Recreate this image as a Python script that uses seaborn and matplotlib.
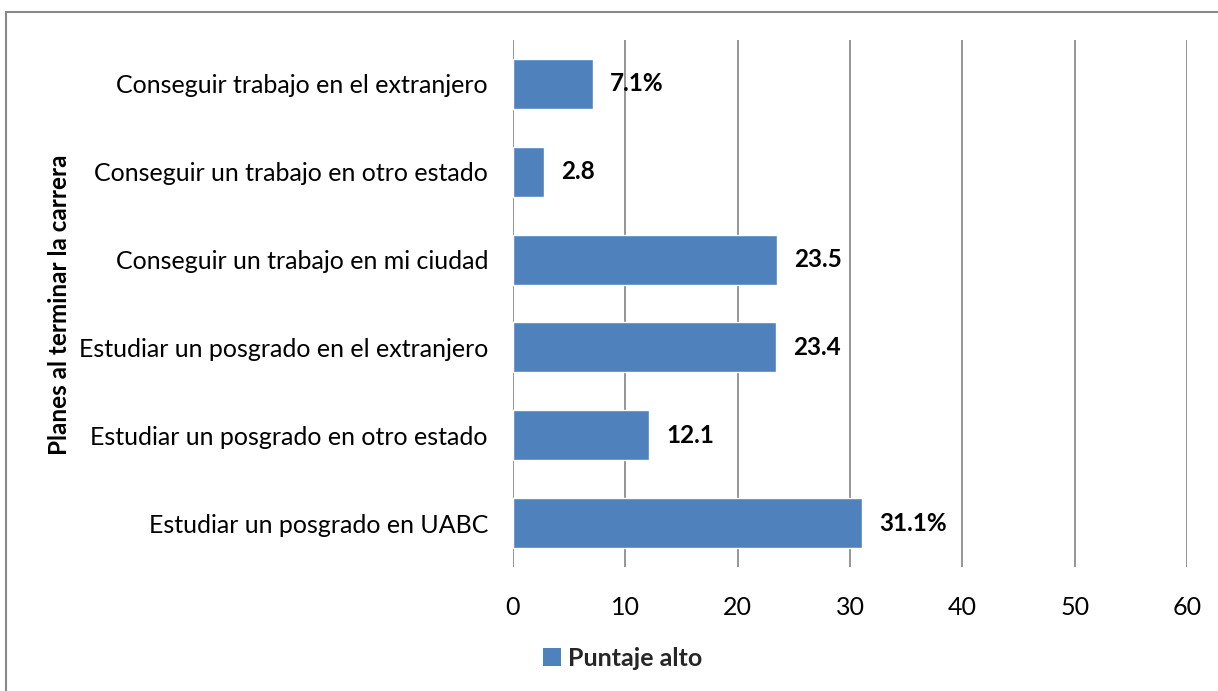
import matplotlib
matplotlib.use("Agg")
import matplotlib.pyplot as plt
import seaborn as sns
import pandas as pd
from matplotlib.patches import Rectangle, Patch

categories = [
    "Conseguir trabajo en el extranjero",
    "Conseguir un trabajo en otro estado",
    "Conseguir un trabajo en mi ciudad",
    "Estudiar un posgrado en el extranjero",
    "Estudiar un posgrado en otro estado",
    "Estudiar un posgrado en UABC",
]
values = [7.1, 2.8, 23.5, 23.4, 12.1, 31.1]
value_labels = ["7.1%", "2.8", "23.5", "23.4", "12.1", "31.1%"]
x_ticks = [0, 10, 20, 30, 40, 50, 60]
series_name = "Puntaje alto"
y_title = "Planes al terminar la carrera"

sns.set_theme(style="white")
plt.rcParams['font.family'] = ['Lato', 'DejaVu Sans']

df = pd.DataFrame({"cat": categories, "val": values})

fig = plt.figure(figsize=(12.18, 6.91), dpi=100)
ax = fig.add_axes([513/1218, 1-567/691, (1187-513)/1218, (567-40)/691])

bar_color = "#4F81BD"
sns.barplot(data=df, x="val", y="cat", orient="h", color=bar_color,
            width=0.57, saturation=1, ax=ax, zorder=3)

ax.set_xlim(0, 60)
ax.set_ylim(len(categories) - 0.5, -0.5)
ax.set_xticks(x_ticks)
ax.set_xticklabels([str(t) for t in x_ticks], fontsize=18, color="black")
ax.tick_params(axis="x", length=0, pad=21)
ax.tick_params(axis="y", length=0, pad=18, labelsize=18, labelcolor="black")
ax.grid(axis="x", color="#8C8C8C", linewidth=1.3, zorder=0)
ax.grid(axis="y", visible=False)
for s in ax.spines.values():
    s.set_visible(False)
ax.set_xlabel("")
ax.set_ylabel("")
fig.text(60/1218, 1-305/691, y_title, rotation=90, ha="center", va="center",
         fontsize=17.5, fontweight="bold", color="black")

for i, (v, lab) in enumerate(zip(values, value_labels)):
    ax.annotate(lab, xy=(v, i), xytext=(17, 0), textcoords="offset pixels",
                ha="left", va="center", fontsize=17.5, fontweight="bold",
                color="black", zorder=5)

handle = Patch(facecolor=bar_color, edgecolor="none")
fig.legend([handle], [series_name], loc="center", bbox_to_anchor=(623/1218, 1-658/691),
           frameon=False, prop={"weight": "bold", "size": 18},
           handlelength=0.7, handleheight=0.7, handletextpad=0.3)

fig.patches.append(Rectangle((6/1218, -0.1), 1.2, 1-12/691+0.1, transform=fig.transFigure,
                             fill=False, edgecolor="#888888", linewidth=1.5))

fig.savefig("out.png", dpi=100)
